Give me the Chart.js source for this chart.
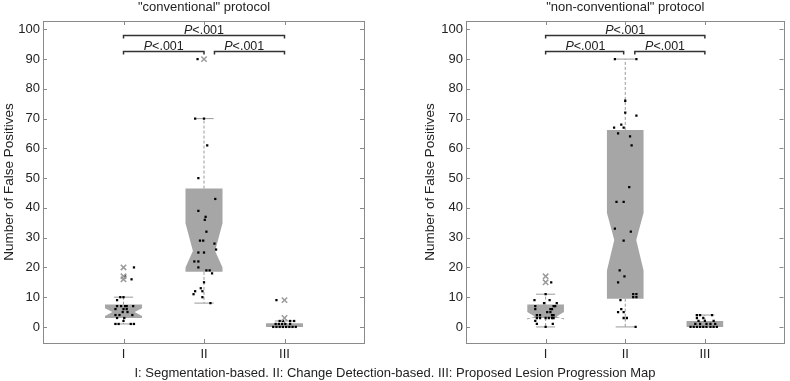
<!DOCTYPE html>
<html>
<head>
<meta charset="utf-8">
<script src="https://cdn.jsdelivr.net/npm/chart.js@4.4.1/dist/chart.umd.min.js"></script>
<style>
  html, body { margin: 0; padding: 0; background: #fff; }
  #wrap { position: relative; width: 790px; height: 381px; overflow: hidden; }
  canvas { position: absolute; top: 0; }
  #caption { position: absolute; left: 0; width: 790px; top: 365px; text-align: center;
             font: 13px "Liberation Sans", Arial, sans-serif; color: #222; line-height: 15px; }
</style>
</head>
<body>
<div id="wrap">
  <canvas id="c1" width="395" height="381" style="left:0px"></canvas>
  <canvas id="c2" width="395" height="381" style="left:395px"></canvas>
  <div id="caption">I: Segmentation-based. II: Change Detection-based. III: Proposed Lesion Progression Map</div>
</div>
<script>
// ---------------- DATA ----------------
const categories = ['I', 'II', 'III'];
const yTicks = [0, 10, 20, 30, 40, 50, 60, 70, 80, 90, 100];
const panelTitles = ['"conventional" protocol', '"non-conventional" protocol'];
const yAxisTitle = 'Number of False Positives';
const pLabel = '<.001';

// "conventional" protocol - individual observations (value) and horizontal jitter (category units)
const convI_values  = [20,17,16,10,10,9,7,7,7,7,7,6,6,6,5,5,4,4,4,3,3,2,1,1,1,1];
const convI_jitter  = [0.13,0.02,0.1,-0.04,0,-0.08,-0.08,-0.03,0.02,0.04,0.12,-0.1,0,0.04,-0.01,0.05,-0.1,-0.05,0.11,-0.08,0.01,0,-0.1,-0.06,0.09,0.13];
const convII_values = [90,70,70,61,50,43,39,37,36,32,29,29,28,26,25,25,22,22,20,19,19,18,15,13,12,12,11,10,8];
const convII_jitter = [-0.08,-0.11,0,0.04,-0.07,0.14,-0.07,0.02,0.01,0.03,-0.05,-0.01,0.13,0.15,-0.07,0,-0.12,-0.07,-0.07,0.03,0.07,0.1,0,-0.04,-0.11,-0.02,-0.13,-0.02,0.08];
const convIII_values = [9,2,2,2,2,1,1,1,1,1,0,0,0,0,0,0,0,0];
const convIII_jitter = [-0.1,-0.06,-0.02,0.07,0.12,-0.11,-0.07,-0.03,0.01,0.07,-0.14,-0.1,-0.06,-0.02,0.02,0.06,0.1,0.14];
const convOutliers = [[20,17,16],[90],[9,3]];
// box statistics per category
const convQ1      = [3, 18.5, 0];
const convMedian  = [5, 25.5, 0.5];
const convQ3      = [7.5, 46.5, 1.2];
const convNotchLo = [3.7, 20, null];
const convNotchHi = [6.3, 34.8, null];
const convWhiskLo = [1, 8, 0];
const convWhiskHi = [10, 70, 2];

// "non-conventional" protocol
const nonI_values  = [15,11,9,9,8,8,7,7,7,6,6,6,5,5,4,4,4,4,3,3,3,3,3,3,2,1,1,0];
const nonI_jitter  = [0.07,0,-0.14,0.05,-0.02,0.14,-0.13,0.1,0.12,-0.13,0.06,0.08,0.02,0.06,-0.11,-0.07,0.08,0.1,-0.11,-0.07,0,0.04,0.08,0.1,-0.13,-0.11,0.09,0];
const nonII_values = [90,90,76,72,71,68,67,67,65,64,61,47,42,42,33,32,29,19,17,15,11,11,10,10,9,6,5,5,3,3,0];
const nonII_jitter = [-0.13,0.14,0,0,0.14,-0.05,-0.14,-0.02,-0.09,0.06,0.08,0.05,-0.11,-0.02,-0.13,0.07,-0.02,-0.07,-0.01,-0.09,0.1,0.14,0.1,0.14,-0.06,-0.05,-0.09,-0.02,-0.02,0.02,0.13];
const nonIII_values = [4,4,4,3,3,2,2,2,1,1,1,1,1,0,0,0,0,0,0,0,0,0];
const nonIII_jitter = [-0.1,-0.06,0.09,-0.1,-0.02,-0.08,0,0.11,-0.12,-0.06,0.02,0.07,0.13,-0.18,-0.14,-0.1,-0.06,-0.02,0.02,0.07,0.11,0.15];
const nonOutliers = [[17,15],[],[]];
const nonQ1      = [3, 9.5, 0];
const nonMedian  = [3.5, 29.2, 1];
const nonQ3      = [7.5, 66.2, 2];
const nonNotchLo = [2.5, 19, null];
const nonNotchHi = [5, 38.3, null];
const nonWhiskLo = [0, 0, 0];
const nonWhiskHi = [11, 90, 4];

// significance brackets: [from category, to category, y level, label center]
const bracketsConv = [[1, 3, 98, 2], [1, 2, 92.8, 1.5], [2.13, 3, 92.8, 2.5]];
const bracketsNon  = [[1, 3, 98, 2], [1, 1.98, 92.8, 1.5], [2.12, 3, 92.8, 2.5]];

// ---------------- RENDERING ----------------
const FONT = '"Liberation Sans", Arial, sans-serif';
const TXT = '#222';
const FRAME = '#8a8a8a';
const BOXFILL = '#a6a6a6';
const WHISK = '#9a9a9a';

function pts(values, jitter, cat) {
  return values.map((v, i) => ({ x: cat + jitter[i], y: v }));
}
function outPts(outs) {
  const r = [];
  outs.forEach((arr, i) => arr.forEach(v => r.push({ x: i + 1, y: v })));
  return r;
}

const decorPlugin = {
  id: 'decor',
  beforeDatasetsDraw(chart, args, o) {
    const ctx = chart.ctx, xs = chart.scales.x, ys = chart.scales.y;
    const s = o.stats;
    ctx.save();
    for (let i = 0; i < categories.length; i++) {
      const c = i + 1;
      const cx = xs.getPixelForValue(c);
      const hw = xs.getPixelForValue(c + 0.23) - cx;
      const cap = xs.getPixelForValue(c + 0.12) - cx;
      const Y = v => ys.getPixelForValue(v);
      // whiskers (dashed)
      ctx.strokeStyle = WHISK; ctx.lineWidth = 1; ctx.setLineDash([3, 2]);
      ctx.beginPath();
      ctx.moveTo(cx, Y(s.q3[i])); ctx.lineTo(cx, Y(s.wHi[i]));
      ctx.moveTo(cx, Y(s.q1[i])); ctx.lineTo(cx, Y(s.wLo[i]));
      ctx.stroke();
      ctx.setLineDash([]);
      ctx.beginPath();
      ctx.moveTo(cx - cap, Y(s.wHi[i])); ctx.lineTo(cx + cap, Y(s.wHi[i]));
      ctx.moveTo(cx - cap, Y(s.wLo[i])); ctx.lineTo(cx + cap, Y(s.wLo[i]));
      ctx.stroke();
      // box (notched)
      ctx.fillStyle = BOXFILL;
      ctx.beginPath();
      if (s.nLo[i] === null) {
        ctx.rect(cx - hw, Y(s.q3[i]), 2 * hw, Y(s.q1[i]) - Y(s.q3[i]));
      } else {
        const w = hw * 0.6;
        ctx.moveTo(cx - hw, Y(s.q1[i]));
        ctx.lineTo(cx - hw, Y(s.nLo[i]));
        ctx.lineTo(cx - w, Y(s.med[i]));
        ctx.lineTo(cx - hw, Y(s.nHi[i]));
        ctx.lineTo(cx - hw, Y(s.q3[i]));
        ctx.lineTo(cx + hw, Y(s.q3[i]));
        ctx.lineTo(cx + hw, Y(s.nHi[i]));
        ctx.lineTo(cx + w, Y(s.med[i]));
        ctx.lineTo(cx + hw, Y(s.nLo[i]));
        ctx.lineTo(cx + hw, Y(s.q1[i]));
        ctx.closePath();
      }
      ctx.fill();
    }
    ctx.restore();
  },
  afterDraw(chart, args, o) {
    const ctx = chart.ctx, xs = chart.scales.x, ys = chart.scales.y, a = chart.chartArea;
    ctx.save();
    // frame
    ctx.strokeStyle = FRAME; ctx.lineWidth = 1;
    ctx.strokeRect(Math.round(a.left) + 0.5, Math.round(a.top) + 0.5, Math.round(a.right - a.left) - 1, Math.round(a.bottom - a.top));
    ctx.beginPath();
    yTicks.forEach(v => {
      const y = Math.round(ys.getPixelForValue(v)) + 0.5;
      ctx.moveTo(a.left, y); ctx.lineTo(a.left + 4, y);
      ctx.moveTo(a.right - 1, y); ctx.lineTo(a.right - 5, y);
    });
    categories.forEach((c, i) => {
      const x = Math.round(xs.getPixelForValue(i + 1)) + 0.5;
      ctx.moveTo(x, a.bottom); ctx.lineTo(x, a.bottom - 4);
      ctx.moveTo(x, a.top); ctx.lineTo(x, a.top + 4);
    });
    ctx.stroke();
    // title
    ctx.fillStyle = TXT;
    ctx.font = '13px ' + FONT;
    ctx.textAlign = 'center'; ctx.textBaseline = 'middle';
    ctx.fillText(o.title, (a.left + a.right) / 2, 7.5);
    // y axis title
    ctx.save();
    ctx.font = '13.5px ' + FONT;
    ctx.translate(o.yTitleX, (a.top + a.bottom) / 2);
    ctx.rotate(-Math.PI / 2);
    ctx.fillText(yAxisTitle, 0, 0);
    ctx.restore();
    // significance brackets
    ctx.strokeStyle = '#333'; ctx.lineWidth = 1.5;
    o.brackets.forEach(b => {
      const x1 = xs.getPixelForValue(b[0]), x2 = xs.getPixelForValue(b[1]);
      const y = Math.round(ys.getPixelForValue(b[2])) + 0.5;
      ctx.beginPath();
      ctx.moveTo(x1, y + 3); ctx.lineTo(x1, y); ctx.lineTo(x2, y); ctx.lineTo(x2, y + 3);
      ctx.stroke();
      const cx = xs.getPixelForValue(b[3]);
      ctx.font = 'italic 12.5px ' + FONT;
      const wP = ctx.measureText('P').width;
      ctx.font = '12.5px ' + FONT;
      const wR = ctx.measureText(pLabel).width;
      const x0 = cx - (wP + wR) / 2;
      ctx.textAlign = 'left'; ctx.textBaseline = 'alphabetic';
      ctx.font = 'italic 12.5px ' + FONT;
      ctx.fillText('P', x0, y - 2);
      ctx.font = '12.5px ' + FONT;
      ctx.fillText(pLabel, x0 + wP, y - 2);
    });
    ctx.restore();
  }
};

function makeChart(id, groups, outliers, stats, brackets, title, padLeft, padRight, yTitleX) {
  const pointData = [];
  groups.forEach((g, i) => pointData.push(...pts(g[0], g[1], i + 1)));
  return new Chart(document.getElementById(id), {
    type: 'scatter',
    data: {
      datasets: [
        { data: outPts(outliers), pointStyle: 'crossRot', pointRadius: 3.8, borderColor: '#9a9a9a',
          borderWidth: 1.5, backgroundColor: 'transparent' },
        { data: pointData, pointStyle: 'rect', pointRadius: 1.6, backgroundColor: '#000', borderWidth: 0 }
      ]
    },
    options: {
      responsive: false, animation: false, devicePixelRatio: 1,
      layout: { padding: { left: padLeft, right: padRight, top: 21, bottom: 0 } },
      plugins: { legend: { display: false }, tooltip: { enabled: false },
                 decor: { stats, brackets, title, yTitleX } },
      scales: {
        x: { type: 'linear', min: 0, max: 4,
             afterBuildTicks: s => { s.ticks = categories.map((c, i) => ({ value: i + 1 })); },
             ticks: { callback: v => categories[v - 1], font: { family: FONT, size: 13 }, color: TXT,
                      padding: 4, autoSkip: false, maxRotation: 0 },
             grid: { display: false, drawTicks: false }, border: { display: false },
             afterFit: s => { s.height = 38; } },
        y: { min: -5.4, max: 102.8,
             afterBuildTicks: s => { s.ticks = yTicks.map(v => ({ value: v })); },
             ticks: { font: { family: FONT, size: 13 }, color: TXT, padding: 3 },
             grid: { display: false, drawTicks: false }, border: { display: false },
             afterFit: s => { s.width = 43; } }
      }
    },
    plugins: [decorPlugin]
  });
}

makeChart('c1',
  [[convI_values, convI_jitter], [convII_values, convII_jitter], [convIII_values, convIII_jitter]],
  convOutliers,
  { q1: convQ1, med: convMedian, q3: convQ3, nLo: convNotchLo, nHi: convNotchHi, wLo: convWhiskLo, wHi: convWhiskHi },
  bracketsConv, panelTitles[0], 0, 30, 9);

makeChart('c2',
  [[nonI_values, nonI_jitter], [nonII_values, nonII_jitter], [nonIII_values, nonIII_jitter]],
  nonOutliers,
  { q1: nonQ1, med: nonMedian, q3: nonQ3, nLo: nonNotchLo, nHi: nonNotchHi, wLo: nonWhiskLo, wHi: nonWhiskHi },
  bracketsNon, panelTitles[1], 28, 2, 35);
</script>
</body>
</html>
